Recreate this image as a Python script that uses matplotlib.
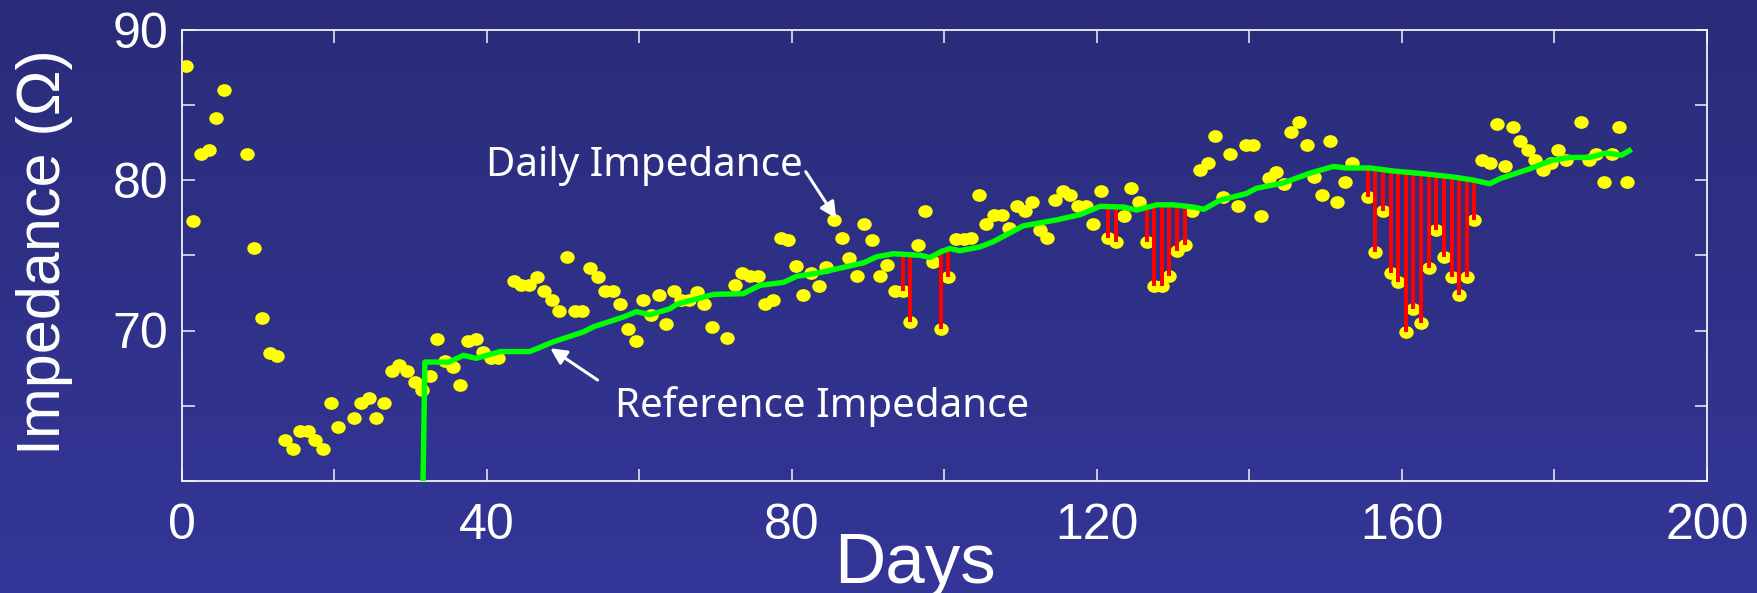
import numpy as np
import matplotlib
matplotlib.use("Agg")
import matplotlib.pyplot as plt
from matplotlib.path import Path
from matplotlib.transforms import Affine2D
from matplotlib.colors import LinearSegmentedColormap

# Daily impedance measurements (day, ohms)
days = [0.5, 1.5, 2.5, 3.5, 4.5, 5.5, 8.5, 9.5, 10.5, 11.5, 12.5, 13.5, 14.5,
        15.5, 16.5, 17.5, 18.5, 19.5, 20.5, 22.5, 23.5, 24.5, 25.5, 26.5,
        27.5, 28.5, 29.5, 30.5, 31.5, 32.5, 33.5, 34.5, 35.5, 36.5, 37.5,
        38.5, 39.5, 40.5, 41.5, 43.5, 44.5, 45.5, 46.5, 47.5, 48.5, 49.5,
        50.5, 51.5, 52.5, 53.5, 54.5, 55.5, 56.5, 57.5, 58.5, 59.5, 60.5,
        61.5, 62.5, 63.5, 64.5, 65.5, 66.5, 67.5, 68.5, 69.5, 71.5, 72.5,
        73.5, 74.5, 75.5, 76.5, 77.5, 78.5, 79.5, 80.5, 81.5, 82.5, 83.5,
        84.5, 85.5, 86.5, 87.5, 88.5, 89.5, 90.5, 91.5, 92.5, 93.5, 94.5,
        95.5, 96.5, 97.5, 98.5, 99.5, 100.5, 101.5, 102.5, 103.5, 104.5,
        105.5, 106.5, 107.5, 108.5, 109.5, 110.5, 111.5, 112.5, 113.5,
        114.5, 115.5, 116.5, 117.5, 118.5, 119.5, 120.5, 121.5, 122.5,
        123.5, 124.5, 125.5, 126.5, 127.5, 128.5, 129.5, 130.5, 131.5,
        132.5, 133.5, 134.5, 135.5, 136.5, 137.5, 138.5, 139.5, 140.5,
        141.5, 142.5, 143.5, 144.5, 145.5, 146.5, 147.5, 148.5, 149.5,
        150.5, 151.5, 152.5, 153.5, 155.5, 156.5, 157.5, 158.5, 159.5,
        160.5, 161.5, 162.5, 163.5, 164.5, 165.5, 166.5, 167.5, 168.5,
        169.5, 170.5, 171.5, 172.5, 173.5, 174.5, 175.5, 176.5, 177.5,
        178.5, 179.5, 180.5, 181.5, 183.5, 184.5, 185.5, 186.5, 187.5,
        188.5, 189.5]
impedance = [87.6, 77.3, 81.7, 82.0, 84.1, 86.0, 81.7, 75.5, 70.8, 68.5, 68.3,
             62.7, 62.1, 63.3, 63.3, 62.7, 62.1, 65.2, 63.6, 64.2, 65.2, 65.5,
             64.2, 65.2, 67.3, 67.7, 67.3, 66.6, 66.05, 67.0, 69.45, 68.0,
             67.6, 66.4, 69.3, 69.45, 68.6, 68.2, 68.2, 73.3, 73.0, 73.0,
             73.55, 72.65, 72.05, 71.3, 74.9, 71.3, 71.3, 74.15, 73.55, 72.65,
             72.65, 71.75, 70.1, 69.3, 72.05, 71.0, 72.35, 70.4, 72.65, 72.05,
             72.05, 72.55, 71.75, 70.2, 69.5, 73.0, 73.85, 73.6, 73.6, 71.75,
             72.05, 76.15, 76.0, 74.3, 72.35, 73.85, 72.95, 74.25, 77.35,
             76.15, 74.8, 73.6, 77.05, 76.0, 73.6, 74.35, 72.65, 72.65, 70.55,
             75.65, 77.95, 74.55, 70.1, 73.55, 76.05, 76.05, 76.15, 79.0,
             77.05, 77.65, 77.65, 76.8, 78.25, 77.95, 78.55, 76.7, 76.15,
             78.7, 79.3, 79.0, 78.25, 78.25, 77.05, 79.3, 76.15, 75.85, 77.6,
             79.45, 78.55, 75.85, 72.95, 72.95, 73.6, 75.25, 75.7, 77.95,
             80.65, 81.1, 82.9, 78.9, 81.75, 78.25, 82.35, 82.35, 77.6, 80.1,
             80.5, 79.75, 83.2, 83.85, 82.35, 80.2, 79.0, 82.6, 78.55, 79.9,
             81.15, 78.85, 75.2, 77.95, 73.85, 73.25, 69.9, 71.45, 70.5, 74.15,
             76.7, 74.9, 73.55, 72.35, 73.55, 77.35, 81.3, 81.1, 83.7, 80.95,
             83.5, 82.6, 82.0, 81.35, 80.65, 81.1, 82.0, 81.3, 83.85, 81.3,
             81.75, 79.9, 81.75, 83.55, 79.9]

# Running reference impedance
ref_days = [31.6, 31.85, 35.0, 36.9, 38.6, 41.7, 45.6, 48.7, 52.6, 54.0, 57.9,
            59.6, 61.4, 64.0, 64.9, 69.7, 73.6, 75.8, 78.9, 80.6, 83.7, 89.4,
            91.1, 93.3, 96.8, 98.1, 99.6, 100.7, 102.0, 104.6, 106.4, 110.3,
            114.7, 117.8, 120.4, 123.5, 125.2, 127.8, 130.0, 132.7, 134.0,
            136.1, 139.6, 140.9, 144.4, 147.9, 151.0, 152.7, 155.8, 158.8,
            163.2, 166.7, 169.3, 171.5, 172.9, 176.8, 179.6, 182.0, 184.6,
            186.8, 188.8, 189.8]
ref_impedance = [59.5, 67.9, 67.9, 68.35, 68.15, 68.6, 68.6, 69.25, 69.9, 70.25,
                 70.9, 71.25, 71.05, 71.45, 71.75, 72.4, 72.45, 73.0, 73.2,
                 73.6, 73.85, 74.5, 74.9, 75.1, 75.0, 74.85, 75.25, 75.45, 75.3,
                 75.55, 75.9, 76.95, 77.35, 77.7, 78.25, 78.2, 78.0, 78.35,
                 78.35, 78.2, 78.05, 78.65, 79.1, 79.45, 79.8, 80.45, 80.9,
                 80.8, 80.8, 80.6, 80.4, 80.2, 80.0, 79.75, 80.1, 80.75, 81.3,
                 81.5, 81.5, 81.8, 81.65, 81.95]

# Days whose reading falls below the reference
flagged_days = [94.5, 95.5, 99.5, 100.5, 121.5, 122.5, 126.5, 127.5, 128.5,
                129.5, 130.5, 131.5, 155.5, 156.5, 157.5, 158.5, 159.5, 160.5,
                161.5, 162.5, 163.5, 164.5, 165.5, 166.5, 167.5, 168.5, 169.5]

x_ticks = [0, 20, 40, 60, 80, 100, 120, 140, 160, 180, 200]
x_labels = ["0", "", "40", "", "80", "", "120", "", "160", "", "200"]
y_ticks = [60, 65, 70, 75, 80, 85, 90]
y_labels = ["", "", "70", "", "80", "", "90"]

W, H = 1758, 593
fig = plt.figure(figsize=(W / 100, H / 100), dpi=100)

# Slide-style vertical gradient background
bg = fig.add_axes([0, 0, 1, 1], zorder=-10)
grad = np.linspace(0, 1, 256).reshape(-1, 1)
cmap = LinearSegmentedColormap.from_list("slide", ["#2A2C79", "#343698"])
bg.imshow(grad, aspect="auto", cmap=cmap, extent=[0, 1, 0, 1], origin="upper")
bg.axis("off")

ax = fig.add_axes([182 / W, 1 - 481 / H, (1707 - 182) / W, (481 - 29.5) / H])
ax.patch.set_alpha(0)

dot = Path.unit_circle().transformed(Affine2D().scale(1.0, 0.88))
ax.plot(days, impedance, linestyle="none", marker=dot, markersize=10.4,
        color="#FFFF00", markeredgewidth=0, zorder=3)

lookup = dict(zip(days, impedance))
flag_vals = [lookup[d] for d in flagged_days]
flag_ref = np.interp(flagged_days, ref_days, ref_impedance)
ax.vlines(flagged_days, flag_vals, flag_ref, color="#FF0000", lw=2.9, zorder=4)

ax.plot(ref_days, ref_impedance, color="#00FF00", lw=3.9, zorder=5,
        solid_joinstyle="round")

ax.set_xlim(0, 200)
ax.set_ylim(60, 90)

white = "#F2F2F8"
for s in ax.spines.values():
    s.set_color(white)
    s.set_linewidth(1.3)

ax.set_xticks(x_ticks)
ax.set_xticklabels(x_labels)
ax.set_yticks(y_ticks)
ax.set_yticklabels(y_labels)
ax.tick_params(direction="in", length=9, width=1.1, color=white,
               top=True, right=True, labelcolor="white")
ax.tick_params(axis="x", pad=16)
ax.tick_params(axis="y", pad=10)
for lab in ax.get_xticklabels() + ax.get_yticklabels():
    lab.set_fontfamily("Liberation Sans")
    lab.set_fontsize(36)

fig.text(45 / W, 1 - 252 / H, "Impedance (\u03a9)", rotation=90, ha="center",
         va="center", color="white", fontsize=44, family="Liberation Sans")
fig.text(915 / W, 1 - 583 / H, "Days", ha="center", va="baseline",
         color="white", fontsize=51, family="Liberation Sans")

arrow = dict(arrowstyle="-|>", color="white", lw=2.2, mutation_scale=24,
             shrinkA=0, shrinkB=0)
ax.annotate("", xy=(85.8, 77.45), xytext=(81.8, 80.55), arrowprops=arrow,
            zorder=6)
ax.annotate("", xy=(48.3, 68.82), xytext=(54.5, 66.71), arrowprops=arrow,
            zorder=6)
ax.text(60.6, 80.29, "Daily Impedance", ha="center", va="baseline",
        color="white", fontsize=29, family="Noto Sans", zorder=6)
ax.text(83.9, 64.27, "Reference Impedance", ha="center", va="baseline",
        color="white", fontsize=29, family="Noto Sans", zorder=6)

fig.savefig("out.png", dpi=100)
